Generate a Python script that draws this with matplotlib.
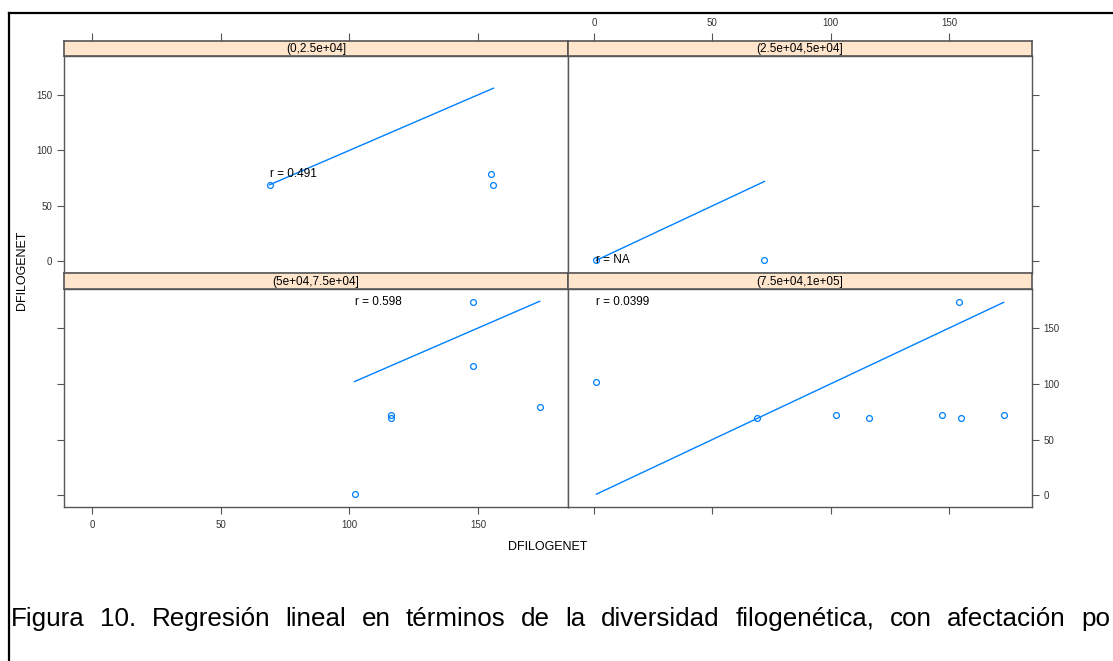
import matplotlib
matplotlib.use("Agg")
import matplotlib.pyplot as plt
from matplotlib.lines import Line2D

plt.rcParams["font.family"] = ["Liberation Sans", "DejaVu Sans"]

# Conditioning intervals, one panel each (top-left, top-right, bottom-left, bottom-right)
strip_labels = ["(0,2.5e+04]", "(2.5e+04,5e+04]", "(5e+04,7.5e+04]", "(7.5e+04,1e+05]"]

# DFILOGENET pairs within each interval
x_p1 = [69, 155, 156]
y_p1 = [69, 79, 69]
x_p2 = [1, 72]
y_p2 = [1, 1]
x_p3 = [102, 116, 116, 148, 148, 174]
y_p3 = [1, 72, 69, 173, 116, 79]
x_p4 = [1, 69, 102, 116, 147, 154, 155, 173]
y_p4 = [102, 69, 72, 69, 72, 173, 69, 72]

r_labels = ["0.491", "NA", "0.598", "0.0399"]

ticks = [0, 50, 100, 150]
axis_label = "DFILOGENET"
caption_words = ["Figura", "10.", "Regresión", "lineal", "en", "términos", "de", "la",
                 "diversidad", "filogenética,", "con", "afectación", "po"]

xs = [x_p1, x_p2, x_p3, x_p4]
ys = [y_p1, y_p2, y_p3, y_p4]

W, H = 1113, 661
fig = plt.figure(figsize=(W / 100, H / 100), dpi=100)
fig.patch.set_facecolor("white")


def box(x0, y0, x1, y1):
    return [x0 / W, 1 - y1 / H, (x1 - x0) / W, (y1 - y0) / H]


cols = [(64, 568), (568, 1032)]
rows = [(41, 56, 273), (273, 289, 507)]  # strip top, panel top, panel bottom

BLUE = "#0080ff"
FRAME = "#555555"
TXT = "#333333"
XLIM = (-11, 185)
YLIM = (-10.5, 185)

for i in range(4):
    r, c = divmod(i, 2)
    x0, x1 = cols[c]
    st, pt, pb = rows[r]
    ax = fig.add_axes(box(x0, pt, x1, pb))
    sax = fig.add_axes(box(x0, st, x1, pt))

    # panel contents
    ax.plot(xs[i], ys[i], linestyle="none", marker="o", markersize=4.2,
            markerfacecolor="none", markeredgecolor=BLUE, markeredgewidth=0.9)
    lo, hi = min(xs[i]), max(xs[i])
    ax.plot([lo, hi], [lo, hi], color=BLUE, lw=1.0)
    ax.text(lo, max(ys[i]), f"r = {r_labels[i]}", ha="left", va="center",
            fontsize=8.5, color="black")

    ax.set_xlim(*XLIM)
    ax.set_ylim(*YLIM)
    ax.set_xticks(ticks)
    ax.set_yticks(ticks)
    for sp in ax.spines.values():
        sp.set_color(FRAME)
        sp.set_linewidth(1.0)
    ax.tick_params(direction="out", length=5, width=0.8, color=FRAME,
                   labelsize=7, labelcolor=TXT,
                   top=False, labeltop=False,
                   bottom=(r == 1), labelbottom=(r == 1 and c == 0),
                   left=(c == 0), labelleft=(c == 0 and r == 0),
                   right=(c == 1), labelright=(c == 1 and r == 1))
    ax.tick_params(axis="x", pad=4.5)
    ax.tick_params(axis="y", pad=3.5)

    # strip
    sax.set_facecolor("#ffe5cc")
    sax.set_xlim(*XLIM)
    sax.set_ylim(0, 1)
    sax.set_xticks(ticks)
    sax.set_yticks([])
    for sp in sax.spines.values():
        sp.set_color(FRAME)
        sp.set_linewidth(1.2)
    sax.tick_params(direction="out", length=6, width=0.8, color=FRAME,
                    labelsize=7, labelcolor=TXT, pad=3.5,
                    bottom=False, labelbottom=False,
                    top=(r == 0), labeltop=(r == 0 and c == 1))
    sax.text(0.5, 0.45, strip_labels[i], transform=sax.transAxes,
             ha="center", va="center", fontsize=8.5, color="black")

# axis titles
fig.text(548 / W, 1 - 547 / H, axis_label, ha="center", va="center",
         fontsize=9, color="black")
fig.text(22 / W, 1 - 270 / H, axis_label, ha="center", va="center",
         rotation=90, fontsize=9, color="black")

# frame around the figure block
fig.add_artist(Line2D([9 / W, 1.0], [1 - 13 / H, 1 - 13 / H],
                      transform=fig.transFigure, color="black", lw=1.6))
fig.add_artist(Line2D([9 / W, 9 / W], [0.0, 1 - 13 / H],
                      transform=fig.transFigure, color="black", lw=1.6))

# justified caption line
renderer = fig.canvas.get_renderer()
cap_size = 18.7
widths = []
for w in caption_words:
    t = fig.text(0, 0, w, fontsize=cap_size)
    widths.append(t.get_window_extent(renderer).width)
    t.remove()
left, right = 11, 1110
gap = (right - left - sum(widths)) / (len(caption_words) - 1)
xpos = left
base_y = 1 - 626 / H
for w, wd in zip(caption_words, widths):
    fig.text(xpos / W, base_y, w, fontsize=cap_size, ha="left", va="baseline",
             color="black")
    xpos += wd + gap

fig.savefig("out.png", dpi=100)
